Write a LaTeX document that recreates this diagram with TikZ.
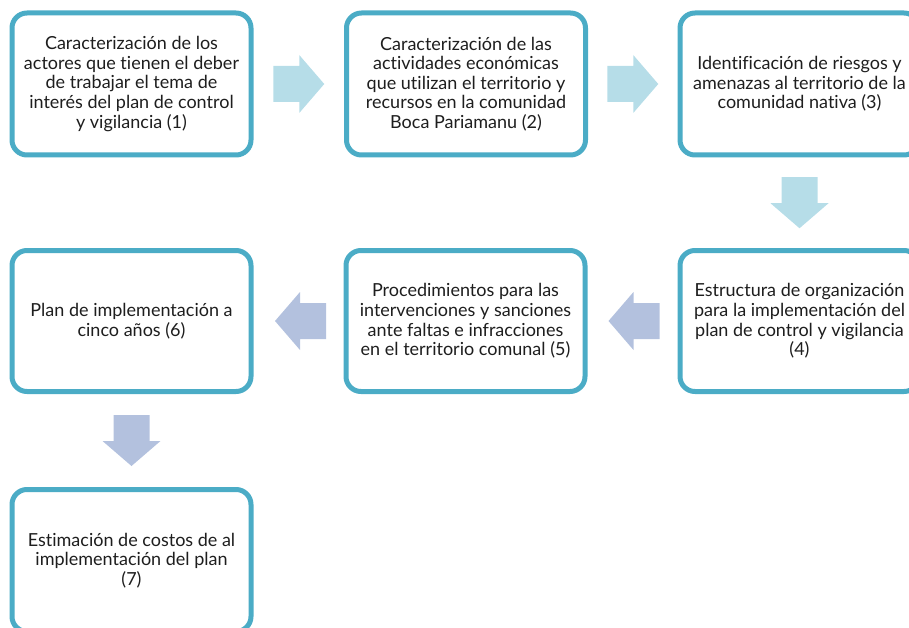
\documentclass[tikz,border=0pt]{standalone}
\usepackage{fontspec}
\setmainfont[Ligatures={NoCommon}]{Lato}
\usetikzlibrary{calc}
\definecolor{boxline}{HTML}{4BACC6}
\definecolor{aquaL}{HTML}{B6DDE8}
\definecolor{lavL}{HTML}{B3C1DE}
\definecolor{txt}{HTML}{1E1E1E}
\tikzset{
  stepbox/.style={draw=boxline, line width=5pt, rounded corners=15pt, fill=white,
    minimum width=239pt, minimum height=142pt, align=center, text=txt,
    font=\fontsize{18pt}{19.6pt}\selectfont, inner sep=0pt},
  blockarrow/.pic={\fill (-25.5,-18) -- (0.5,-18) -- (0.5,-29) -- (25.5,0) -- (0.5,29) -- (0.5,18) -- (-25.5,18) -- cycle;}
}
\begin{document}
\begin{tikzpicture}[x=1pt,y=-1pt]
\useasboundingbox (0,0) rectangle (909,628);
\begin{scope}
\clip (0,0) rectangle (909,628);
\node[stepbox] (b1) at (131.5,84) {Caracterización de los\\actores que tienen el deber\\de trabajar el tema de\\interés del plan de control\\y vigilancia (1)};
\node[stepbox] (b2) at (466,84) {Caracterización de las\\actividades económicas\\que utilizan el territorio y\\recursos en la comunidad\\Boca Pariamanu (2)};
\node[stepbox] (b3) at (799.5,84) {Identificación de riesgos y\\amenazas al territorio de la\\comunidad nativa (3)};
\node[stepbox, minimum height=141pt] (b4) at (799.5,321) {Estructura de organización\\para la implementación del\\plan de control y vigilancia\\(4)};
\node[stepbox, minimum height=141pt] (b5) at (465.5,321) {Procedimientos para las\\intervenciones y sanciones\\ante faltas e infracciones\\en el territorio comunal (5)};
\node[stepbox, minimum height=141pt] (b6) at (131.5,321) {Plan de implementación a\\cinco años (6)};
\node[stepbox] (b7) at (131.5,560.5) {Estimación de costos de al\\implementación del plan\\(7)};
\end{scope}
\pic[fill=aquaL] at ($(b1.east)!0.5!(b2.west)$) {blockarrow};
\pic[fill=aquaL] at ($(b2.east)!0.5!(b3.west)$) {blockarrow};
\pic[fill=aquaL, rotate=-90] at ($(b3.south)!0.5!(b4.north)$) {blockarrow};
\pic[fill=lavL, rotate=180] at ($(b4.west)!0.5!(b5.east)+(1.5,0)$) {blockarrow};
\pic[fill=lavL, rotate=180] at ($(b5.west)!0.5!(b6.east)+(2,0)$) {blockarrow};
\pic[fill=lavL, rotate=-90] at ($(b6.south)!0.5!(b7.north)$) {blockarrow};
\end{tikzpicture}
\end{document}
